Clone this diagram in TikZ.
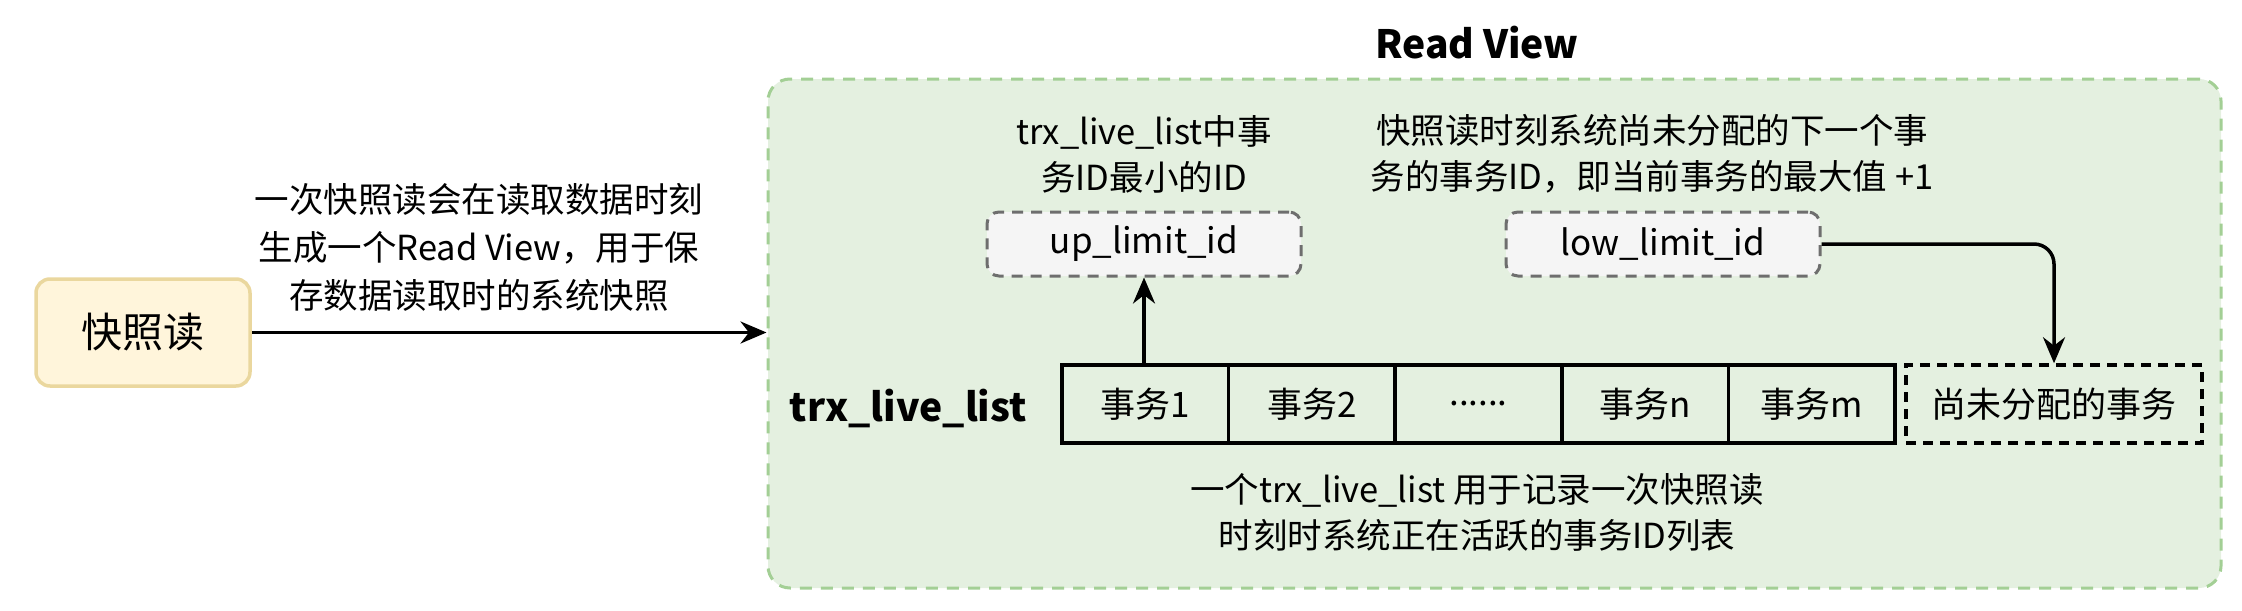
\documentclass[tikz,border=0pt]{standalone}
\usepackage{fontspec}
\setmainfont{Noto Sans CJK SC}
\usetikzlibrary{arrows.meta}
\definecolor{gfill}{HTML}{E4F0E0}
\definecolor{gline}{HTML}{A3CF95}
\definecolor{yfill}{HTML}{FFF5DB}
\definecolor{yline}{HTML}{EAD79E}
\definecolor{bfill}{HTML}{F5F5F5}
\definecolor{bline}{HTML}{6E6E6E}
\tikzset{
  txt/.style={font=\fontsize{34.5}{44}\selectfont, align=center, inner sep=0pt},
  btxt/.style={font=\fontsize{39}{44}\selectfont\bfseries, inner sep=0pt},
  yelbox/.style={draw=yline, fill=yfill, line width=3.5pt, rounded corners=14pt, font=\fontsize{41}{44}\selectfont},
  greenbox/.style={draw=gline, fill=gfill, line width=3pt, dash pattern=on 12pt off 9pt, rounded corners=22pt},
  graybox/.style={draw=bline, fill=bfill, line width=3pt, dash pattern=on 11pt off 8pt, rounded corners=12pt, minimum width=314pt, minimum height=64pt, font=\fontsize{35}{40}\selectfont},
  cellbox/.style={draw=black, line width=3.5pt, minimum width=166.6pt, minimum height=78pt, font=\fontsize{35}{40}\selectfont, inner sep=0pt},
  freebox/.style={draw=black, line width=3.5pt, dash pattern=on 10pt off 7pt, minimum width=296pt, minimum height=78pt, font=\fontsize{35}{40}\selectfont},
  arr/.style={draw=black, line width=3.5pt, -{Stealth[length=26pt,width=22pt]}},
}
\begin{document}
\begin{tikzpicture}[x=1pt,y=-1pt]
\useasboundingbox (0,0) rectangle (2242,610);
\node[greenbox, minimum width=1453pt, minimum height=509pt] (rv) at (1494.5,333.5) {};
\node[btxt] (title) at (1477,43) {Read View};
\node[yelbox, minimum width=214pt, minimum height=107pt] (snap) at (143,332.5) {快照读};
\node[txt] (snaplbl) at (479,247) {一次快照读会在读取数据时刻\\[4pt]生成一个Read View，用于保\\[4pt]存数据读取时的系统快照};
\draw[arr] (snap.east) -- (snap.east -| rv.west);
% list
\node[btxt, anchor=east] (listlbl) at (1027,408) {trx\_live\_list};
\node[cellbox] (c1) at (1145.3,404) {事务1};
\node[cellbox] (c2) at (1311.9,404) {事务2};
\node[cellbox] (c3) at (1478.5,404) {......};
\node[cellbox] (c4) at (1645.1,404) {事务n};
\node[cellbox] (c5) at (1811.7,404) {事务m};
\node[freebox] (free) at (2054,404) {尚未分配的事务};
\node[txt] (listnote) at (1477,512) {一个trx\_live\_list 用于记录一次快照读\\[2pt]时刻时系统正在活跃的事务ID列表};
% limits
\node[graybox] (up) at (1144,244) {up\_limit\_id};
\node[txt] (uplbl) at (1144,154) {trx\_live\_list中事\\[2pt]务ID最小的ID};
\node[graybox] (low) at (1663,244) {low\_limit\_id};
\node[txt] (lowlbl) at (1652,154) {快照读时刻系统尚未分配的下一个事\\[2pt]务的事务ID，即当前事务的最大值 +1};
\draw[arr] (c1.north -| up.south) -- (up.south);
\draw[arr, rounded corners=20pt] (low.east) -| (free.north);
\end{tikzpicture}
\end{document}
